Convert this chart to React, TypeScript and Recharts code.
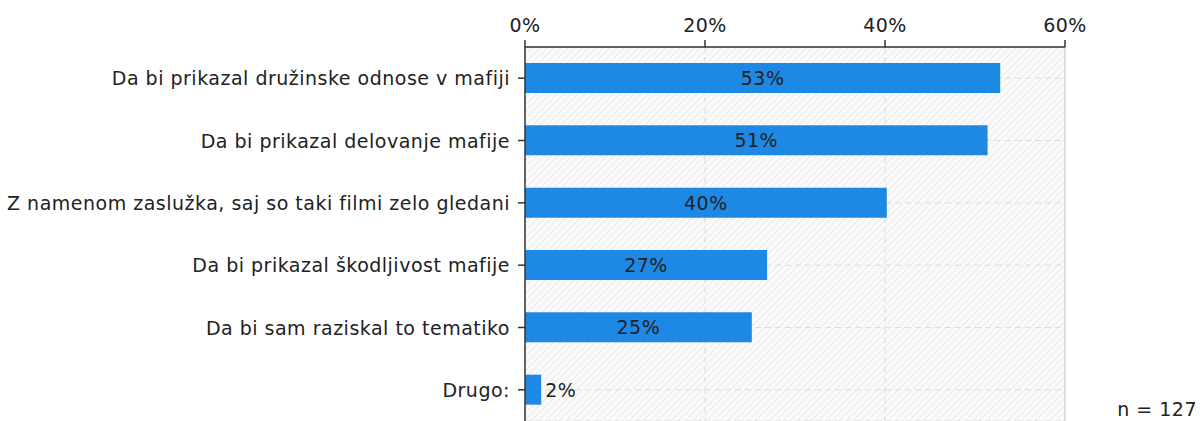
import React from 'react';
import { BarChart, Bar, XAxis, YAxis, CartesianGrid, LabelList, ReferenceLine } from 'recharts';

const categories = [
  'Da bi prikazal družinske odnose v mafiji',
  'Da bi prikazal delovanje mafije',
  'Z namenom zaslužka, saj so taki filmi zelo gledani',
  'Da bi prikazal škodljivost mafije',
  'Da bi sam raziskal to tematiko',
  'Drugo:',
];
const values = [52.8, 51.4, 40.2, 26.9, 25.2, 1.8];
const valueLabels = ['53%', '51%', '40%', '27%', '25%', '2%'];
const xTicks = [0, 20, 40, 60];
const sampleNote = 'n = 127';

const data = categories.map((c, i) => ({ name: c, value: values[i], label: valueLabels[i] }));

const FONT = '"DejaVu Sans", Verdana, sans-serif';
const FS = 19;
const LS = 0.5;
const TEXT = '#222';

const YTick = (props: any) => {
  const { x, y, payload } = props;
  return (
    <text x={x} y={y} textAnchor="end" dominantBaseline="central" fontFamily={FONT} fontSize={FS} letterSpacing={LS} fill={TEXT}>
      {payload.value}
    </text>
  );
};

const XTick = (props: any) => {
  const { x, payload } = props;
  return (
    <text x={x} y={32} textAnchor="middle" fontFamily={FONT} fontSize={FS} letterSpacing={LS} fill={TEXT}>
      {payload.value + '%'}
    </text>
  );
};

const BarLabel = (props: any) => {
  const { x, y, width, height, index } = props;
  const lbl = valueLabels[index];
  const inside = width > 50;
  return (
    <text
      x={inside ? x + width / 2 : x + width + 4}
      y={y + height / 2}
      textAnchor={inside ? 'middle' : 'start'}
      dominantBaseline="central"
      fontFamily={FONT}
      fontSize={FS}
      letterSpacing={LS}
      fill={TEXT}
    >
      {lbl}
    </text>
  );
};

export default function App() {
  return (
    <div style={{ position: 'absolute', left: 0, top: 0, width: 1204, height: 421, background: '#fff' }}>
      <svg width={0} height={0} style={{ position: 'absolute' }}>
        <defs>
          <pattern id="hatch" patternUnits="userSpaceOnUse" width={7} height={7}>
            <rect x={0} y={0} width={7} height={7} fill="#fafafa" />
            <path d="M0,7 L7,0 M-1,1 L1,-1 M6,8 L8,6" stroke="#e6e6e6" strokeWidth={1} />
          </pattern>
        </defs>
      </svg>
      <BarChart
        width={1204}
        height={421}
        data={data}
        layout="vertical"
        margin={{ top: 17, right: 139, bottom: 0, left: 0 }}
        barCategoryGap={0}
      >
        <CartesianGrid
          fill="url(#hatch)"
          stroke="#dcdcdc"
          strokeDasharray="6 4"
          vertical
          horizontal
        />
        <ReferenceLine x={60} stroke="#d8d8d8" strokeWidth={1.5} />
        <XAxis
          type="number"
          orientation="top"
          domain={[0, 60]}
          ticks={xTicks}
          height={30}
          axisLine={{ stroke: '#333', strokeWidth: 1.5 }}
          tickLine={{ stroke: '#333', strokeWidth: 1.5 }}
          tickSize={7}
          tick={<XTick />}
          interval={0}
        />
        <YAxis
          type="category"
          dataKey="name"
          width={525}
          axisLine={{ stroke: '#333', strokeWidth: 1.5 }}
          tickLine={{ stroke: '#333', strokeWidth: 1.5 }}
          tickSize={7}
          tickMargin={8}
          tick={<YTick />}
          interval={0}
        />
        <Bar dataKey="value" fill="#1e88e5" barSize={30} isAnimationActive={false}>
          <LabelList dataKey="value" content={<BarLabel />} />
        </Bar>
      </BarChart>
      <div
        style={{
          position: 'absolute',
          right: 7,
          top: 398,
          fontFamily: FONT,
          fontSize: FS,
          letterSpacing: LS,
          color: TEXT,
          lineHeight: '22px',
        }}
      >
        {sampleNote}
      </div>
    </div>
  );
}
